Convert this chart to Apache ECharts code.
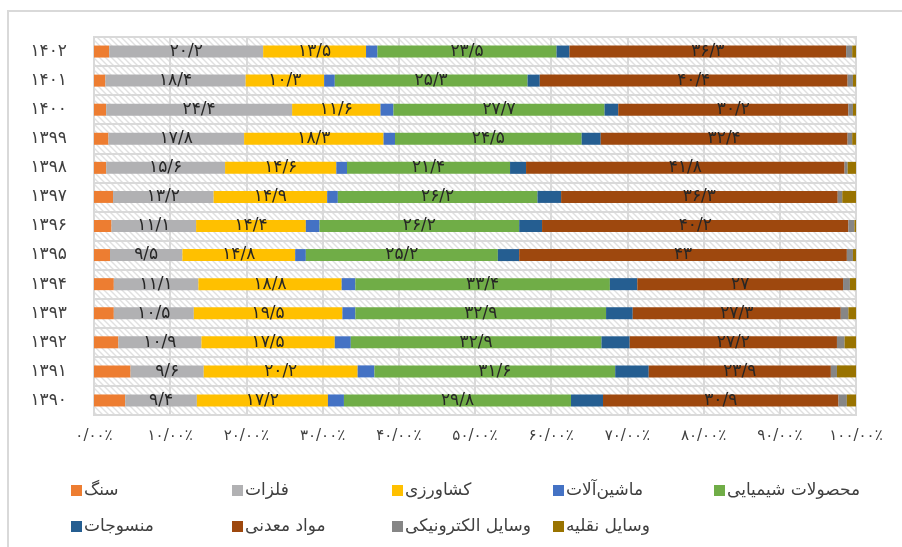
<!DOCTYPE html>
<html>
<head>
<meta charset="utf-8">
<script src="https://cdn.jsdelivr.net/npm/echarts@6/dist/echarts.min.js"></script>
<style>
html, body { margin: 0; padding: 0; background: #ffffff; }
#chart { width: 902px; height: 547px; }
</style>
</head>
<body>
<div id="chart" class="echartbar-export"></div>
<script>
var years = ['1390', '1391', '1392', '1393', '1394', '1395', '1396', '1397', '1398', '1399', '1400', '1401', '1402'];
var seriesNames = ['سنگ', 'فلزات', 'کشاورزی', 'ماشین‌آلات', 'محصولات شیمیایی', 'منسوجات', 'مواد معدنی', 'وسایل الکترونیکی', 'وسایل نقلیه'];
var xTicks = [0, 10, 20, 30, 40, 50, 60, 70, 80, 90, 100];

var sang        = [4.1, 4.8, 3.2, 2.6, 2.6, 2.1, 2.3, 2.5, 1.6, 1.9, 1.6, 1.5, 2.0];
var felezat     = [9.4, 9.6, 10.9, 10.5, 11.1, 9.5, 11.1, 13.2, 15.6, 17.8, 24.4, 18.4, 20.2];
var keshavarzi  = [17.2, 20.2, 17.5, 19.5, 18.8, 14.8, 14.4, 14.9, 14.6, 18.3, 11.6, 10.3, 13.5];
var mashinalat  = [2.1, 2.2, 2.1, 1.7, 1.8, 1.4, 1.8, 1.4, 1.4, 1.5, 1.7, 1.4, 1.5];
var shimiyai    = [29.8, 31.6, 32.9, 32.9, 33.4, 25.2, 26.2, 26.2, 21.4, 24.5, 27.7, 25.3, 23.5];
var mansujat    = [4.2, 4.4, 3.7, 3.5, 3.6, 2.8, 3.0, 3.1, 2.1, 2.5, 1.8, 1.6, 1.7];
var madani      = [30.9, 23.9, 27.2, 27.3, 27, 43, 40.2, 36.3, 41.8, 32.4, 30.2, 40.4, 36.3];
var electronic  = [1.1, 0.8, 1.0, 1.0, 0.9, 0.8, 0.8, 0.6, 0.4, 0.6, 0.6, 0.7, 0.8];
var naghlie     = [1.2, 2.5, 1.5, 1.0, 0.8, 0.4, 0.2, 1.8, 1.1, 0.5, 0.4, 0.4, 0.5];

var seriesData   = [sang, felezat, keshavarzi, mashinalat, shimiyai, mansujat, madani, electronic, naghlie];
var seriesColors = ['#ED7D31', '#B1B1B3', '#FFC000', '#4472C4', '#70AD47', '#255E91', '#9E480E', '#868686', '#997300'];
var labelled     = [false, true, true, false, true, false, true, false, false];

function toPersian(str) {
	var digits = '۰۱۲۳۴۵۶۷۸۹';
	return String(str).replace(/[0-9]/g, function (d) { return digits[+d]; }).replace(/\./g, '/');
}

// light diagonal hatch used for the plot background
function makeHatch() {
	var c = document.createElement('canvas');
	c.width = 6;
	c.height = 6;
	var ctx = c.getContext('2d');
	ctx.fillStyle = '#ffffff';
	ctx.fillRect(0, 0, 6, 6);
	ctx.strokeStyle = '#e0e0e0';
	ctx.lineWidth = 1.4;
	ctx.beginPath();
	ctx.moveTo(-1, -1); ctx.lineTo(7, 7);
	ctx.moveTo(-4, 2); ctx.lineTo(4, 10);
	ctx.moveTo(2, -4); ctx.lineTo(10, 4);
	ctx.stroke();
	return c;
}

function generateEchartbarExport() {
	var $chart = document.getElementById('chart');
	var chartActive = echarts.init($chart);
	var legendCols = [66, 227, 387, 548, 709];
	var legends = [];
	var series = [];

	for (var i = 0; i < seriesNames.length; i++) {
		legends.push({
			data: [seriesNames[i]],
			left: legendCols[i % 5],
			top: i < 5 ? 477 : 513,
			itemWidth: 11,
			itemHeight: 11,
			icon: 'rect',
			selectedMode: false,
			textStyle: {
				color: '#404040',
				fontSize: 17,
				fontFamily: 'DejaVu Sans',
				padding: [0, 0, 0, -3]
			}
		});
		series.push({
			name: seriesNames[i],
			type: 'bar',
			stack: 'total',
			barWidth: 12,
			data: seriesData[i],
			itemStyle: { color: seriesColors[i] },
			label: {
				show: labelled[i],
				position: 'inside',
				color: '#262626',
				fontSize: 17,
				fontFamily: 'DejaVu Sans',
				formatter: function (p) { return toPersian(p.value); }
			}
		});
	}

	var option = {
		animation: false,
		backgroundColor: '#ffffff',
		graphic: [{
			type: 'rect',
			shape: { x: 8, y: 11, width: 1000, height: 700 },
			style: { fill: 'none', stroke: '#d9d9d9', lineWidth: 2 },
			silent: true
		}],
		legend: legends,
		grid: {
			left: 94,
			right: 46,
			top: 37,
			bottom: 132,
			show: true,
			backgroundColor: { image: makeHatch(), repeat: 'repeat' },
			borderColor: '#d9d9d9',
			borderWidth: 2
		},
		xAxis: {
			type: 'value',
			min: xTicks[0],
			max: xTicks[xTicks.length - 1],
			interval: 10,
			axisLine: { show: false },
			axisTick: { show: false },
			splitLine: { lineStyle: { color: '#d9d9d9', width: 2 } },
			axisLabel: {
				color: '#404040',
				fontSize: 15,
				fontFamily: 'DejaVu Sans',
				margin: 14,
				formatter: function (v) { return toPersian(v.toFixed(2)) + '٪'; }
			}
		},
		yAxis: {
			type: 'category',
			data: years,
			axisLine: { show: false },
			axisTick: { show: false },
			splitLine: { show: true, lineStyle: { color: '#d9d9d9', width: 2 } },
			axisLabel: {
				color: '#404040',
				fontSize: 17,
				fontFamily: 'DejaVu Sans',
				margin: 27,
				formatter: function (v) { return toPersian(v); }
			}
		},
		series: series
	};
	chartActive.setOption(option);
}

generateEchartbarExport();
</script>
</body>
</html>
